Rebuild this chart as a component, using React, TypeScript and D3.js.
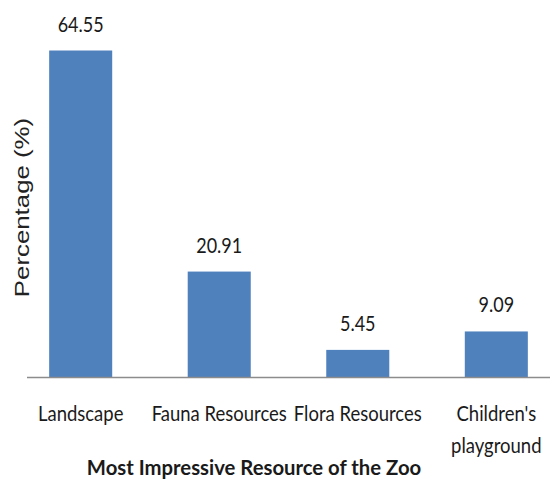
import React from "react";
import * as d3 from "d3";

const categories: string[][] = [
  ["Landscape"],
  ["Fauna Resources"],
  ["Flora Resources"],
  ["Children's", "playground"],
];
const values: number[] = [64.55, 20.91, 5.45, 9.09];
const valueLabels: string[] = ["64.55", "20.91", "5.45", "9.09"];
const yTitle = "Percentage (%)";
const xTitle = "Most Impressive Resource of the Zoo";

const W = 550;
const H = 482;
const BASE_Y = 377.5;
const FONT = "Lato, 'Open Sans', sans-serif";

export default function App() {
  const keys = categories.map((c) => c.join(" "));
  const x = d3
    .scaleBand<string>()
    .domain(keys)
    .range([27, 550])
    .paddingInner(0.545)
    .paddingOuter(0.16);
  const y = d3.scaleLinear().domain([0, 70]).range([BASE_Y, 22.9]);
  const cx = (i: number) => (x(keys[i]) ?? 0) + x.bandwidth() / 2;

  return (
    <svg
      width={W}
      height={H}
      style={{ position: "absolute", left: 0, top: 0, background: "#fff" }}
    >
      {/* bars */}
      {values.map((v, i) => (
        <rect
          key={keys[i]}
          x={x(keys[i])}
          y={y(v)}
          width={x.bandwidth()}
          height={y(0) - y(v)}
          fill="#4f81bd"
        />
      ))}
      {/* value labels */}
      {values.map((v, i) => (
        <text
          key={"v" + i}
          transform={`translate(${cx(i)},${y(v) - 19}) scale(1,1.2)`}
          textAnchor="middle"
          fontFamily={FONT}
          fontSize={18}
          fill="#1a1a1a"
        >
          {valueLabels[i]}
        </text>
      ))}
      {/* category axis */}
      <line x1={27} x2={550} y1={BASE_Y} y2={BASE_Y} stroke="#8c8c8c" strokeWidth={1.5} />
      {categories.map((lines, i) =>
        lines.map((t, j) => (
          <text
            key={"c" + i + j}
            transform={`translate(${cx(i)},${420.7 + j * 32.6}) scale(1,1.13)`}
            textAnchor="middle"
            fontFamily={FONT}
            fontSize={18.5}
            fill="#1a1a1a"
          >
            {t}
          </text>
        ))
      )}
      {/* axis titles */}
      <text
        transform="translate(254,474.5)"
        textAnchor="middle"
        fontFamily={FONT}
        fontWeight="bold"
        fontSize={20.3}
        fill="#1a1a1a"
      >
        {xTitle}
      </text>
      <text
        transform="translate(29,207.5) rotate(-90) scale(1.23,1)"
        textAnchor="middle"
        fontFamily="'Liberation Sans', Arial, sans-serif"
        fontSize={21}
        fill="#222"
      >
        {yTitle}
      </text>
    </svg>
  );
}
